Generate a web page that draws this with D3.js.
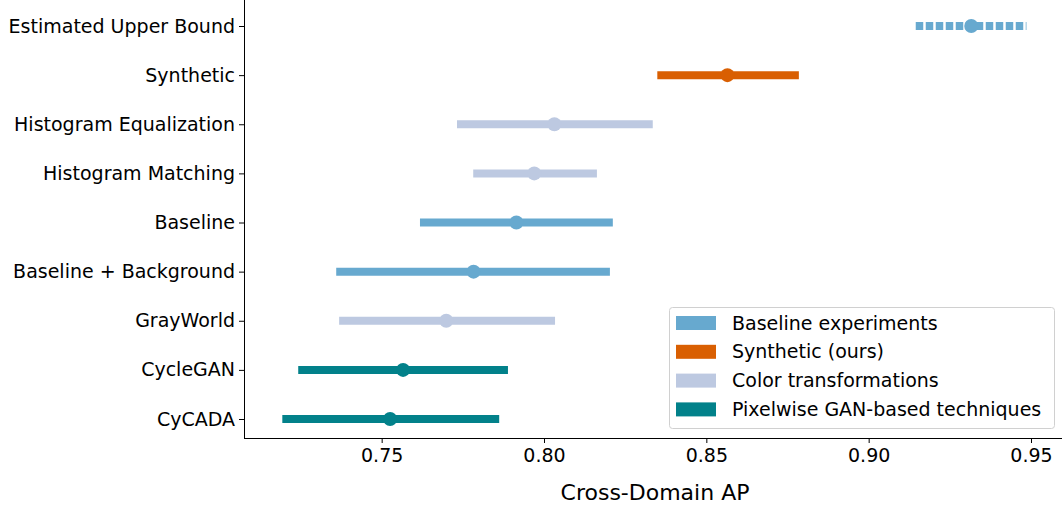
<!DOCTYPE html>
<html lang="en">
<head>
  <meta charset="UTF-8" />
  <title>Cross-Domain AP</title>
  <script src="https://d3js.org/d3.v7.min.js"></script>
  <style>
    body { margin: 0; overflow: hidden; background: #fff; }
    svg { font-family: "DejaVu Sans", sans-serif; }
    .axis path, .axis line { stroke: #000; stroke-width: 1px; }
    .axis text { font-size: 19px; fill: #000; font-family: "DejaVu Sans", sans-serif; }
  </style>
</head>
<body>
  <svg width="1062" height="505"></svg>
  <script>
    // datos
    const methods = ["Estimated Upper Bound", "Synthetic", "Histogram Equalization", "Histogram Matching",
                     "Baseline", "Baseline + Background", "GrayWorld", "CycleGAN", "CyCADA"];
    const lowVals  = [0.9145, 0.8349, 0.7732, 0.7782, 0.7618, 0.7360, 0.7369, 0.7243, 0.7194];
    const highVals = [0.9486, 0.8785, 0.8335, 0.8163, 0.8212, 0.8203, 0.8034, 0.7889, 0.7862];
    const meanVals = [0.9316, 0.8565, 0.8032, 0.7970, 0.7915, 0.7783, 0.7699, 0.7566, 0.7526];
    const groupOf  = [0, 1, 2, 2, 0, 0, 2, 3, 3];
    const groups   = ["Baseline experiments", "Synthetic (ours)", "Color transformations", "Pixelwise GAN-based techniques"];
    const colors   = ["#67a9cf", "#d95f02", "#bdc9e1", "#02818a"];
    const xTicks   = [0.75, 0.80, 0.85, 0.90, 0.95];

    const width = 1062, height = 505;
    const svg = d3.select("svg");

    const x = d3.scaleLinear()
      .domain([0.80, 0.95])
      .range([544, 1031]);
    const y = d3.scalePoint()
      .domain(methods)
      .range([26, 419]);

    const left = 244, bottom = 438;

    // ejes
    const xAxis = svg.append("g")
      .attr("class", "axis")
      .attr("transform", `translate(0,${bottom})`)
      .call(d3.axisBottom(x).tickValues(xTicks).tickFormat(d3.format(".2f")).tickSize(5).tickPadding(6));
    xAxis.select(".domain").attr("d", `M${left},0.5H${width}`);

    const yAxis = svg.append("g")
      .attr("class", "axis")
      .attr("transform", `translate(${left},0)`)
      .call(d3.axisLeft(y).tickSize(5).tickPadding(4));
    yAxis.select(".domain").attr("d", `M0.5,0V${bottom}`);

    svg.append("text")
      .attr("x", 655).attr("y", 500)
      .attr("text-anchor", "middle")
      .style("font-size", "22px")
      .text("Cross-Domain AP");

    // intervalos
    const rows = methods.map((m, i) => ({ m, lo: lowVals[i], hi: highVals[i], mean: meanVals[i], g: groupOf[i], i }));

    svg.append("g").selectAll("line")
      .data(rows)
      .enter().append("line")
        .attr("x1", d => x(d.lo))
        .attr("x2", d => x(d.hi))
        .attr("y1", d => y(d.m))
        .attr("y2", d => y(d.m))
        .attr("stroke", d => colors[d.g])
        .attr("stroke-width", 8)
        .attr("stroke-dasharray", d => d.i === 0 ? "7.5,2.5" : null);

    svg.append("g").selectAll("circle")
      .data(rows)
      .enter().append("circle")
        .attr("cx", d => x(d.mean))
        .attr("cy", d => y(d.m))
        .attr("r", 7)
        .attr("fill", d => colors[d.g]);

    // leyenda
    const legend = svg.append("g");
    legend.append("rect")
      .attr("x", 669.5).attr("y", 307.5)
      .attr("width", 385).attr("height", 121)
      .attr("rx", 3)
      .attr("fill", "#fff").attr("fill-opacity", 0.8)
      .attr("stroke", "#d0d0d0");
    const items = legend.selectAll("g.item")
      .data(groups)
      .enter().append("g")
        .attr("class", "item")
        .attr("transform", (d, i) => `translate(676,${323 + i * 28.8})`);
    items.append("rect")
      .attr("x", 0).attr("y", -7)
      .attr("width", 40).attr("height", 14)
      .attr("fill", (d, i) => colors[i]);
    items.append("text")
      .attr("x", 56).attr("y", 0)
      .attr("dy", "0.35em")
      .style("font-size", "19px")
      .text(d => d);
  </script>
</body>
</html>
